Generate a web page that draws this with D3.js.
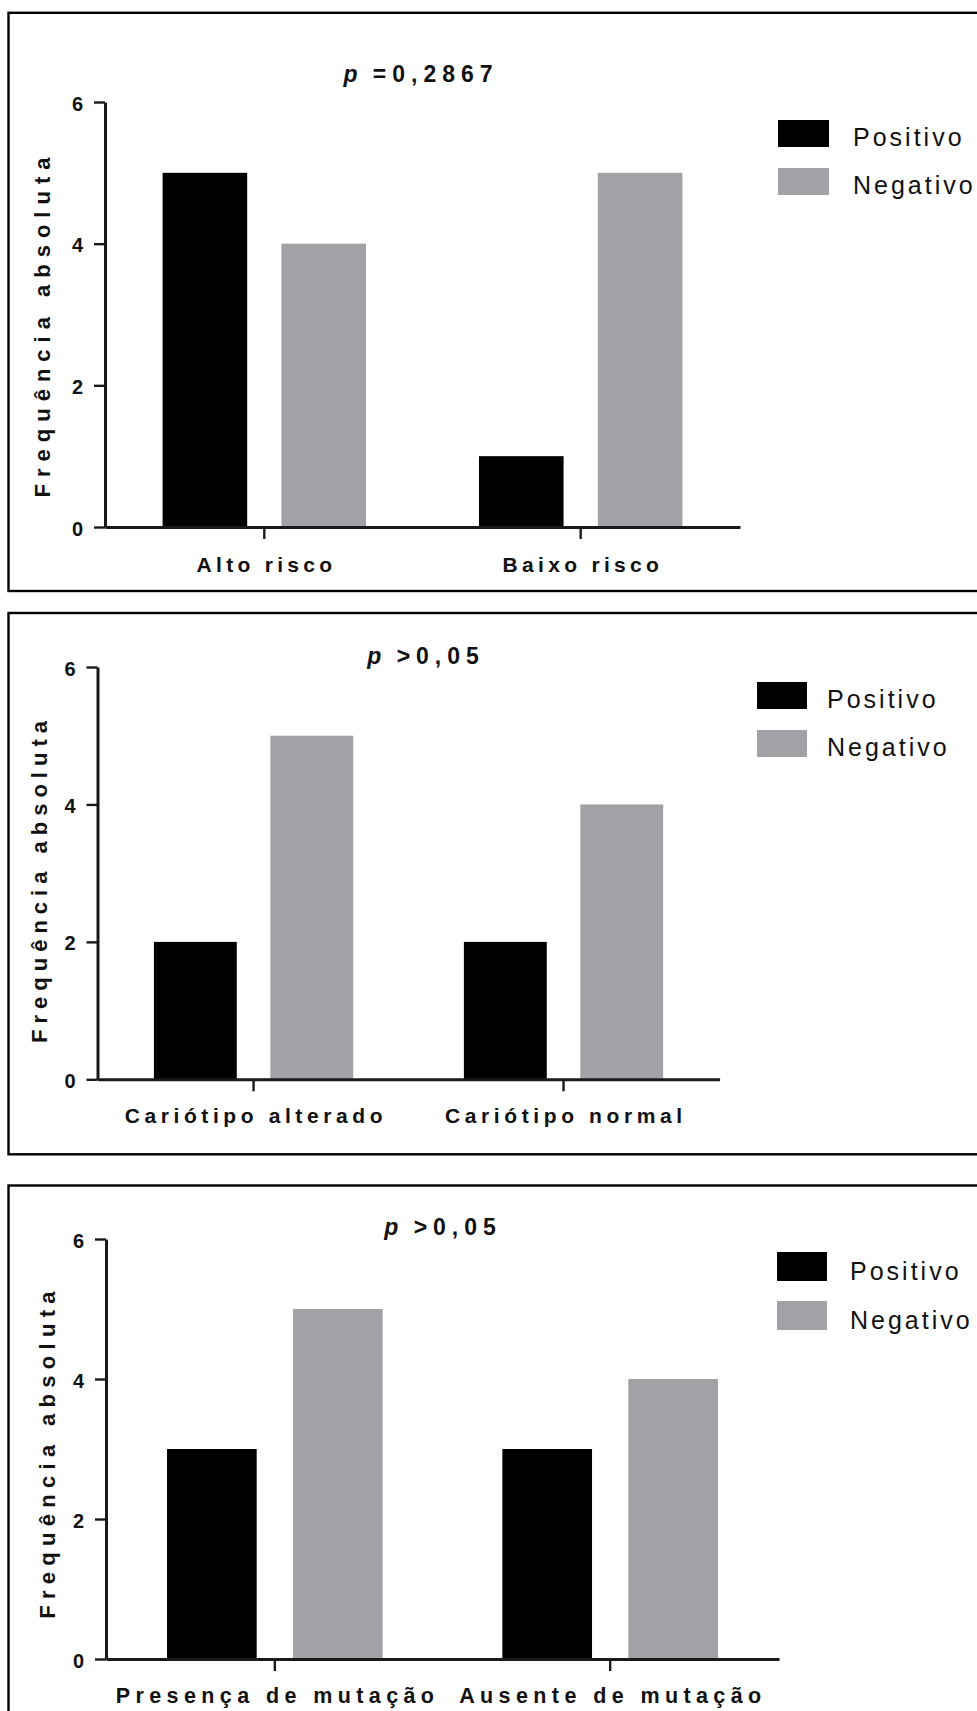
<!DOCTYPE html>
<html>
<head>
<meta charset="utf-8">
<script src="https://cdn.jsdelivr.net/npm/d3@7"></script>
<style>
  html, body { margin: 0; padding: 0; background: #ffffff; }
  svg { display: block; }
</style>
</head>
<body>
<svg id="fig" width="977" height="1711"></svg>
<script>
// Series shared by the three panels
const series = ["Positivo", "Negativo"];
const seriesColors = ["#000000", "#a2a1a6"];
const yTicks = [0, 2, 4, 6];

// Panel A: risk group
const categoriesA = ["Alto risco", "Baixo risco"];
const positivoA = [5, 1];
const negativoA = [4, 5];
const pTextA = "=0,2867";

// Panel B: karyotype
const categoriesB = ["Cariótipo alterado", "Cariótipo normal"];
const positivoB = [2, 2];
const negativoB = [5, 4];
const pTextB = ">0,05";

// Panel C: mutation status
const categoriesC = ["Presença de mutação", "Ausente de mutação"];
const positivoC = [3, 3];
const negativoC = [5, 4];
const pTextC = ">0,05";

const yLabel = "Frequência absoluta";
const FONT = "'Liberation Sans', Arial, Helvetica, sans-serif";

const svg = d3.select("#fig");

function drawPanel(cfg) {
  const g = svg.append("g");

  // frame (right side runs off the page)
  g.append("rect")
    .attr("x", cfg.frame.x).attr("y", cfg.frame.top)
    .attr("width", 1000).attr("height", cfg.frame.bottom - cfg.frame.top)
    .attr("fill", "none").attr("stroke", "#000").attr("stroke-width", 2.4);

  const x = d3.scaleBand().domain(cfg.categories)
    .range([cfg.x0, cfg.x1]).paddingInner(0.357).paddingOuter(0.182);
  const xs = d3.scaleBand().domain(series)
    .range([0, x.bandwidth()]).paddingInner(0.288).paddingOuter(0);
  const y = d3.scaleLinear().domain([0, 6]).range([cfg.y0, cfg.y6]);

  const rows = cfg.categories.map((c, i) => ({ cat: c, vals: [cfg.pos[i], cfg.neg[i]] }));

  // bars
  const grp = g.selectAll("g.grp").data(rows).join("g")
    .attr("class", "grp")
    .attr("transform", d => `translate(${x(d.cat)},0)`);
  grp.selectAll("rect").data(d => d.vals.map((v, k) => ({ s: series[k], v, k })))
    .join("rect")
    .attr("x", d => xs(d.s))
    .attr("y", d => y(d.v))
    .attr("width", xs.bandwidth())
    .attr("height", d => y(0) - y(d.v))
    .attr("fill", d => seriesColors[d.k]);

  // y axis
  const ya = g.append("g")
    .attr("transform", `translate(${cfg.x0},0)`)
    .call(d3.axisLeft(y).tickValues(yTicks).tickFormat(d3.format("d"))
      .tickSize(11).tickSizeOuter(0).tickPadding(11));
  ya.select(".domain").attr("stroke", "#1a1a1a").attr("stroke-width", 3);
  ya.selectAll(".tick line").attr("stroke", "#1a1a1a").attr("stroke-width", 2.4);
  ya.selectAll(".tick text")
    .attr("font-family", FONT).attr("font-size", 20).attr("font-weight", "bold")
    .attr("fill", "#111").attr("dy", "0.4em");

  // x axis
  const xa = g.append("g")
    .attr("transform", `translate(0,${cfg.y0})`)
    .call(d3.axisBottom(x).tickSize(12).tickSizeOuter(0));
  xa.select(".domain").attr("stroke", "#1a1a1a").attr("stroke-width", 3);
  xa.selectAll(".tick line").attr("stroke", "#1a1a1a").attr("stroke-width", 2.4);
  xa.selectAll(".tick text")
    .attr("font-family", FONT).attr("font-size", cfg.xFont).attr("font-weight", "bold")
    .attr("letter-spacing", cfg.xSpacing + "px")
    .attr("fill", "#111")
    .attr("x", cfg.xSpacing / 2)
    .attr("y", cfg.xLabelBase - cfg.y0).attr("dy", 0);

  // y axis title
  g.append("text")
    .attr("transform", `translate(${cfg.yTitle.x},${cfg.yTitle.y}) rotate(-90)`)
    .attr("text-anchor", "middle")
    .attr("font-family", FONT).attr("font-size", 22).attr("font-weight", "bold")
    .attr("letter-spacing", cfg.yTitle.spacing + "px")
    .attr("fill", "#111")
    .text(yLabel);

  // p-value title
  const t = g.append("text")
    .attr("x", cfg.title.x).attr("y", cfg.title.y)
    .attr("text-anchor", "middle")
    .attr("font-family", FONT).attr("font-size", 23).attr("font-weight", "bold")
    .attr("letter-spacing", "6px").attr("fill", "#111");
  t.append("tspan").attr("font-style", "italic").text("p");
  t.append("tspan").attr("letter-spacing", "3px").text(" ");
  t.append("tspan").text(cfg.pText);

  // legend
  const lg = g.append("g");
  series.forEach((s, k) => {
    const top = cfg.legend.y + k * cfg.legend.gap;
    lg.append("rect")
      .attr("x", cfg.legend.x).attr("y", top)
      .attr("width", cfg.legend.w).attr("height", cfg.legend.h)
      .attr("fill", seriesColors[k]);
    lg.append("text")
      .attr("x", cfg.legend.tx).attr("y", top + cfg.legend.h - 1)
      .attr("font-family", FONT).attr("font-size", 25)
      .attr("letter-spacing", "3px").attr("fill", "#111")
      .text(s);
  });
}

drawPanel({
  categories: categoriesA, pos: positivoA, neg: negativoA, pText: pTextA,
  frame: { x: 8.5, top: 12.8, bottom: 591 },
  x0: 105, x1: 740, y0: 527, y6: 102,
  xFont: 21, xSpacing: 4.3, xLabelBase: 572,
  yTitle: { x: 50, y: 324, spacing: 7 },
  title: { x: 421, y: 82 },
  legend: { x: 778, y: 120, w: 51, h: 27, gap: 48, tx: 853 }
});

drawPanel({
  categories: categoriesB, pos: positivoB, neg: negativoB, pText: pTextB,
  frame: { x: 8.5, top: 613, bottom: 1154.3 },
  x0: 97.5, x1: 719.6, y0: 1079.3, y6: 667,
  xFont: 21, xSpacing: 4.6, xLabelBase: 1123.3,
  yTitle: { x: 47, y: 879, spacing: 6 },
  title: { x: 426, y: 664 },
  legend: { x: 757, y: 682, w: 50, h: 27, gap: 48, tx: 827 }
});

drawPanel({
  categories: categoriesC, pos: positivoC, neg: negativoC, pText: pTextC,
  frame: { x: 8.5, top: 1185.5, bottom: 1760 },
  x0: 106, x1: 779, y0: 1659, y6: 1239,
  xFont: 21.5, xSpacing: 5.4, xLabelBase: 1703,
  yTitle: { x: 55, y: 1452, spacing: 6.3 },
  title: { x: 443, y: 1234.5 },
  legend: { x: 777, y: 1252, w: 50, h: 29, gap: 49, tx: 850 }
});
</script>
</body>
</html>
